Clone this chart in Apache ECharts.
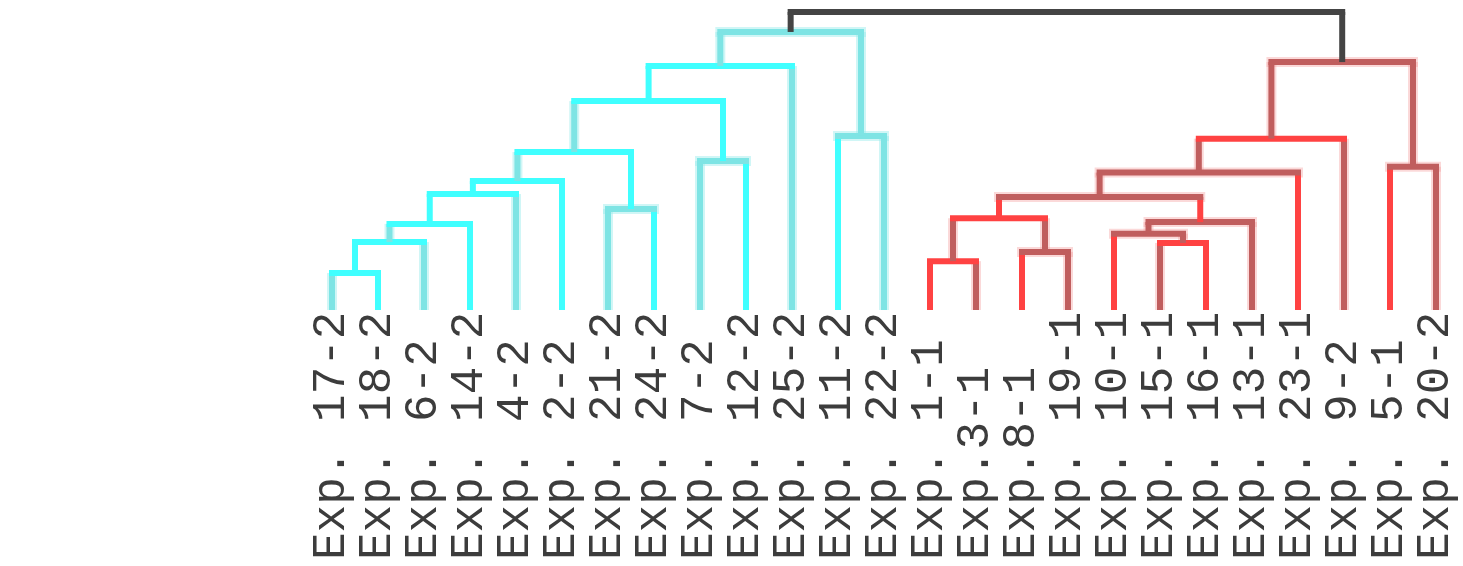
<!DOCTYPE html>
<html>
<head>
<meta charset="utf-8">
<script src="https://cdn.jsdelivr.net/npm/echarts@6/dist/echarts.min.js"></script>
<style>
html,body{margin:0;padding:0;background:#fff;}
#chart{width:1463px;height:566px;}
</style>
</head>
<body>
<div id="chart"></div>
<script>
// Leaf labels in dendrogram order
const leaves = ['Exp. 17-2','Exp. 18-2','Exp. 6-2','Exp. 14-2','Exp. 4-2','Exp. 2-2','Exp. 21-2','Exp. 24-2','Exp. 7-2','Exp. 12-2','Exp. 25-2','Exp. 11-2','Exp. 22-2','Exp. 1-1','Exp.3-1','Exp.8-1','Exp. 19-1','Exp. 10-1','Exp. 15-1','Exp. 16-1','Exp. 13-1','Exp. 23-1','Exp. 9-2','Exp. 5-1','Exp. 20-2'];

// Merges: [left child, right child, height]; ids < 25 are leaves, id 25+k is merge k
const mergeLeft   = [0, 25, 26, 27, 28, 6, 29, 8, 31, 33, 11, 34, 13, 15, 37, 18, 17, 41, 39, 43, 44, 23, 45, 36];
const mergeRight  = [1, 2, 3, 4, 5, 7, 30, 9, 32, 10, 12, 35, 14, 16, 38, 19, 40, 20, 42, 21, 22, 24, 46, 47];
const mergeHeight = [0.124, 0.228, 0.289, 0.389, 0.433, 0.339, 0.530, 0.500, 0.701, 0.819, 0.584, 0.933,
                     0.164, 0.195, 0.308, 0.225, 0.256, 0.295, 0.379, 0.461, 0.575, 0.481, 0.832, 1.000];

// Styles (tones): b = bright, m = muted, d = dark
const mergeUpTone = ['b','m','b','b','m','b','m','b','b','m','m','d','m','m','b','m','m','b','m','m','m','m','d',null];
const mergeHTone  = ['b','b','b','b','b','m','b','m','b','b','m','m','b','m','b','b','m','m','m','m','b','m','m','d'];

const N = leaves.length;
const nodeX = [], nodeH = [], upTone = [], cluster = [];
for (let i = 0; i < N; i++) { nodeX[i] = i; nodeH[i] = 0; upTone[i] = (i % 2 === 0) ? 'm' : 'b'; }
mergeLeft.forEach((a, k) => {
  const id = N + k, b = mergeRight[k];
  nodeX[id] = (nodeX[a] + nodeX[b]) / 2;
  nodeH[id] = mergeHeight[k];
  upTone[id] = mergeUpTone[k];
});
function mark(id, c) { cluster[id] = c; if (id >= N) { mark(mergeLeft[id - N], c); mark(mergeRight[id - N], c); } }
const rootK = mergeLeft.length - 1;
mark(mergeLeft[rootK], 'c');
mark(mergeRight[rootK], 'r');

const palette = {
  c: { b: '#40ffff', m: '#7ee4e4', halo: 'rgba(150,235,235,0.45)' },
  r: { b: '#ff4242', m: '#c05e5e', halo: 'rgba(245,160,160,0.40)' },
  d: '#444444'
};
function colorOf(tone, cl) { return tone === 'd' ? palette.d : palette[cl][tone]; }

const segs = [];
mergeLeft.forEach((a, k) => {
  const b = mergeRight[k], id = N + k, h = mergeHeight[k];
  const hcl = k === rootK ? 'c' : cluster[id];
  [a, b].forEach(ch => {
    segs.push([nodeX[ch], nodeH[ch], nodeX[ch], h, colorOf(upTone[ch], cluster[ch]), upTone[ch] === 'm' ? palette[cluster[ch]].halo : '', 0]);
  });
  segs.push([nodeX[a], h, nodeX[b], h, colorOf(mergeHTone[k], hcl), mergeHTone[k] === 'm' ? palette[hcl].halo : '', 1]);
});

const LW = 6;
function render(isHalo) {
  return function (params, api) {
    const s = segs[params.dataIndex];
    if (isHalo && !s[5]) return null;
    const p1 = api.coord([s[0], s[1]]), p2 = api.coord([s[2], s[3]]);
    return {
      type: 'line',
      shape: { x1: p1[0], y1: p1[1], x2: p2[0], y2: p2[1] },
      style: {
        stroke: isHalo ? s[5] : s[4],
        lineWidth: isHalo ? LW + 4 : LW,
        lineCap: s[6] ? 'square' : 'butt'
      }
    };
  };
}

const chart = echarts.init(document.getElementById('chart'), null, { renderer: 'canvas' });
chart.setOption({
  animation: false,
  backgroundColor: '#ffffff',
  grid: { left: 309, right: 4, top: 12, bottom: 256 },
  xAxis: [
    {
      type: 'category', data: leaves, boundaryGap: true,
      axisLine: { show: false }, axisTick: { show: false }, splitLine: { show: false },
      axisLabel: {
        interval: 0, rotate: 90, align: 'left', verticalAlign: 'middle', margin: 250,
        fontFamily: 'Liberation Mono', fontSize: 46, color: '#3c3c3c'
      }
    },
    { type: 'value', min: -0.5, max: N - 0.5, show: false }
  ],
  yAxis: { type: 'value', min: 0, max: 1, show: false },
  series: [
    { type: 'custom', xAxisIndex: 1, renderItem: render(true), data: segs.map(s => [s[0], s[1], s[2], s[3]]), encode: { x: [0, 2], y: [1, 3] }, silent: true, z: 1 },
    { type: 'custom', xAxisIndex: 1, renderItem: render(false), data: segs.map(s => [s[0], s[1], s[2], s[3]]), encode: { x: [0, 2], y: [1, 3] }, silent: true, z: 2 }
  ]
});
</script>
</body>
</html>
